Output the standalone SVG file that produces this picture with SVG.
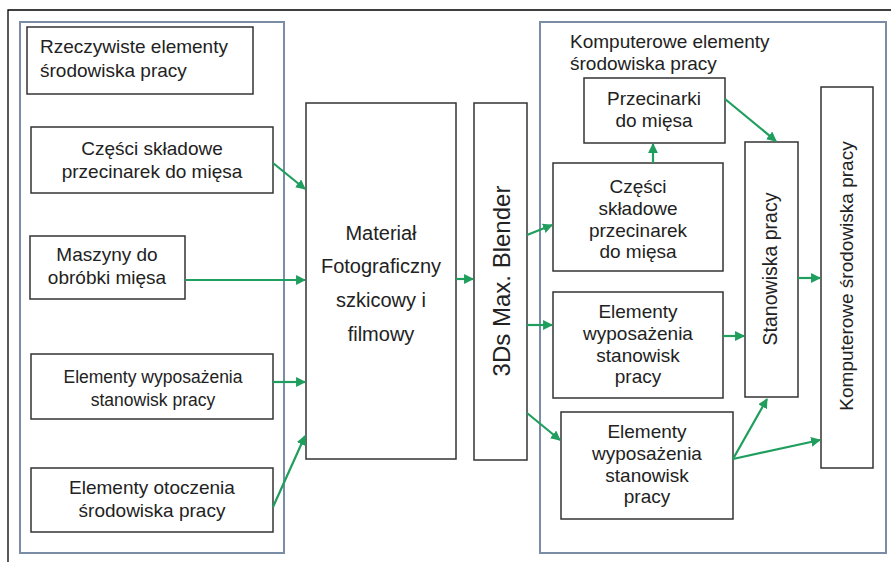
<svg xmlns="http://www.w3.org/2000/svg" width="893" height="562" viewBox="0 0 893 562">
<defs>
<marker id="ah" viewBox="0 0 10 10" refX="9" refY="5" markerWidth="4.5" markerHeight="4.5" orient="auto" markerUnits="strokeWidth">
<path d="M0,0 L10,5 L0,10 z" fill="#1f9e5e"/>
</marker>
<style>
.frame{fill:none;stroke:#000;stroke-width:1.3}
.panel{fill:#fff;stroke:#7a8ca6;stroke-width:2}
.box{fill:#fff;stroke:#333;stroke-width:1.5}
.t{font-family:"Liberation Sans",Arial,sans-serif;font-size:19px;fill:#222}
.c{text-anchor:middle}
.s{font-size:17.5px}
.m{font-size:20px}
.conn path{fill:none;stroke:#1f9e5e;stroke-width:2.2;marker-end:url(#ah)}
</style>
</defs>
<rect width="893" height="562" fill="#fff"/>
<path class="frame" d="M8,562 L8,10 L891,10"/>
<g id="panel-left"><rect class="panel" x="20" y="22" width="264" height="531"/></g>
<g id="panel-right"><rect class="panel" x="540" y="22" width="346" height="531"/>
<text class="t" x="570" y="48">Komputerowe elementy</text>
<text class="t" x="570" y="70">środowiska pracy</text></g>

<g id="n-rzeczywiste"><rect class="box" x="27" y="27" width="226" height="67"/>
<text class="t" x="40" y="53">Rzeczywiste elementy</text>
<text class="t" x="40" y="77">środowiska pracy</text></g>

<g id="n-czesci-l"><rect class="box" x="31" y="127" width="242" height="66"/>
<text class="t c" x="152" y="155">Części składowe</text>
<text class="t c" x="152" y="178">przecinarek do mięsa</text></g>

<g id="n-maszyny"><rect class="box" x="30" y="236" width="155" height="63"/>
<text class="t c" x="107" y="261">Maszyny do</text>
<text class="t c" x="107" y="284">obróbki mięsa</text></g>

<g id="n-elem-l"><rect class="box" x="31" y="354" width="242" height="65"/>
<text class="t c s" x="153" y="383">Elementy wyposażenia</text>
<text class="t c s" x="153" y="406">stanowisk pracy</text></g>

<g id="n-otoczenie"><rect class="box" x="31" y="468" width="242" height="64"/>
<text class="t c" x="152" y="494">Elementy otoczenia</text>
<text class="t c" x="152" y="517">środowiska pracy</text></g>

<g id="n-material"><rect class="box" x="306" y="103" width="150" height="356"/>
<text class="t c m" x="381" y="240">Materiał</text>
<text class="t c m" x="381" y="273">Fotograficzny</text>
<text class="t c m" x="381" y="307">szkicowy i</text>
<text class="t c m" x="381" y="341">filmowy</text></g>

<g id="n-3ds"><rect class="box" x="474" y="103" width="53" height="357"/>
<text class="t c" x="0" y="0" transform="translate(510,281) rotate(-90)" style="font-size:24px">3Ds Max. Blender</text></g>

<g id="n-przecinarki"><rect class="box" x="584" y="78" width="141" height="65"/>
<text class="t c" x="654" y="105">Przecinarki</text>
<text class="t c" x="654" y="127">do mięsa</text></g>

<g id="n-czesci-r"><rect class="box" x="553" y="163" width="170" height="108"/>
<text class="t c" x="638" y="193">Części</text>
<text class="t c" x="638" y="215">składowe</text>
<text class="t c" x="638" y="237">przecinarek</text>
<text class="t c" x="638" y="258">do mięsa</text></g>

<g id="n-elem-r1"><rect class="box" x="553" y="292" width="170" height="106"/>
<text class="t c" x="638" y="318">Elementy</text>
<text class="t c" x="638" y="340">wyposażenia</text>
<text class="t c" x="638" y="362">stanowisk</text>
<text class="t c" x="638" y="383">pracy</text></g>

<g id="n-elem-r2"><rect class="box" x="561" y="412" width="172" height="107"/>
<text class="t c" x="647" y="438">Elementy</text>
<text class="t c" x="647" y="460">wyposażenia</text>
<text class="t c" x="647" y="482">stanowisk</text>
<text class="t c" x="647" y="503">pracy</text></g>

<g id="n-stanowiska"><rect class="box" x="745" y="142" width="53" height="255"/>
<text class="t c" x="0" y="0" transform="translate(777,269) rotate(-90)" style="font-size:19.5px">Stanowiska pracy</text></g>

<g id="n-komputerowe"><rect class="box" x="821" y="87" width="52" height="381"/>
<text class="t c" x="0" y="0" transform="translate(853,276) rotate(-90)">Komputerowe środowiska pracy</text></g>

<g id="connectors" class="conn">
<path d="M273,163 L305,189"/>
<path d="M185,280 L305,280"/>
<path d="M273,382 L305,382"/>
<path d="M273,507 L305,436"/>
<path d="M456,279 L473,279"/>
<path d="M527,235 L552,225"/>
<path d="M527,325 L552,325"/>
<path d="M527,413 L560,440"/>
<path d="M653,163 L653,144"/>
<path d="M725,99 L776,141"/>
<path d="M798,278 L820,278"/>
<path d="M723,336 L744,336"/>
<path d="M733,459 L767,399"/>
<path d="M733,459 L820,440"/>
</g>
</svg>
